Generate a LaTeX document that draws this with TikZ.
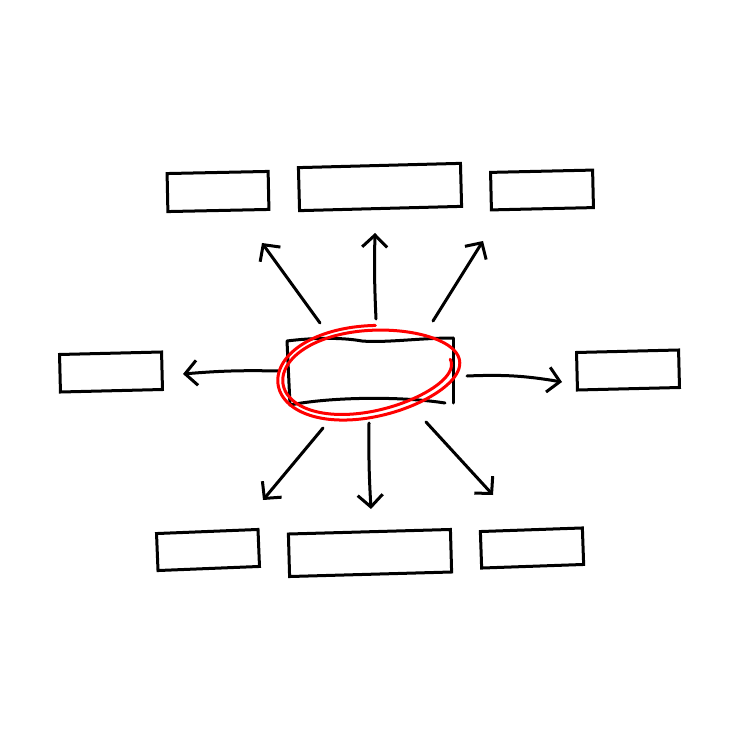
\documentclass[tikz,border=0pt]{standalone}
\usetikzlibrary{arrows.meta}

\tikzset{
  box/.style={draw,line width=0.3mm,inner sep=0pt},
  pen/.style={line width=0.3mm,line cap=round,line join=round},
  arr/.style={pen,-{Straight Barb[length=1.2mm,width=2.5mm]}},
  scribble/.style={red,line width=0.3mm,line cap=round}
}

\begin{document}
\begin{tikzpicture}[x=0.01cm,y=-0.01cm,
    declare function={ra(\t)=94-6*(\t-83)/457-4*((\t-83)/642)^8;
                      rb(\t)=(47-6*(\t-83)/457-4*((\t-83)/642)^8)*(1-0.12*cos(\t));}]
    \useasboundingbox (0,0) rectangle (740,740);

    \node[box,minimum width=1.01cm,minimum height=0.38cm,rotate=1.2] (top1) at (218,191.5) {};
    \node[box,minimum width=1.62cm,minimum height=0.43cm,rotate=1.5] (top2) at (380,187) {};
    \node[box,minimum width=1.02cm,minimum height=0.375cm,rotate=1.3] (top3) at (542,190) {};
    \node[box,minimum width=1.02cm,minimum height=0.375cm,rotate=1.4] (left) at (111,372) {};
    \node[box,minimum width=1.02cm,minimum height=0.375cm,rotate=1.4] (right) at (628,370) {};
    \node[box,minimum width=1.015cm,minimum height=0.37cm,rotate=2.3] (bot1) at (208,550) {};
    \node[box,minimum width=1.62cm,minimum height=0.425cm,rotate=1.6] (bot2) at (370,553) {};
    \node[box,minimum width=1.02cm,minimum height=0.365cm,rotate=2] (bot3) at (532,548) {};

    % centre box, drawn by hand
    \draw[pen] (453,338) .. controls (420,338) and (385,343) .. (362,341)
        .. controls (340,337) and (310,338) .. (287,341) -- (290,405)
        .. controls (330,397) and (400,396) .. (445,403);
    \draw[pen] (453,338) -- (453,403);

    \coordinate (s1) at (320,323);  \coordinate (t1) at (262,243);
    \coordinate (s2) at (376,319);  \coordinate (t2) at (375,233);
    \coordinate (s3) at (433,321);  \coordinate (t3) at (483,241);
    \coordinate (s4) at (278,371);  \coordinate (t4) at (183,374);
    \coordinate (s5) at (467,376);  \coordinate (t5) at (562,382);
    \coordinate (s6) at (323,428);  \coordinate (t6) at (263,500);
    \coordinate (s7) at (369,423);  \coordinate (t7) at (371,509);
    \coordinate (s8) at (426,422);  \coordinate (t8) at (493,495);

    \draw[arr] (s1) -- (t1);
    \draw[arr] (s2) to [bend left=2] (t2);
    \draw[arr] (s3) -- (t3);
    \draw[arr] (s4) to [bend right=3] (t4);
    \draw[arr] (s5) to [bend left=6] (t5);
    \draw[arr] (s6) -- (t6);
    \draw[arr] (s7) to [bend right=2] (t7);
    \draw[arr] (s8) -- (t8);

    % red circle round the centre box
    \draw[scribble] plot[domain=83:725,samples=240,smooth]
        ({370+ra(\x)*cos(\x)*cos(7.5)-rb(\x)*sin(\x)*sin(7.5)},
         {372.5-(ra(\x)*cos(\x)*sin(7.5)+rb(\x)*sin(\x)*cos(7.5))});
\end{tikzpicture}
\end{document}
